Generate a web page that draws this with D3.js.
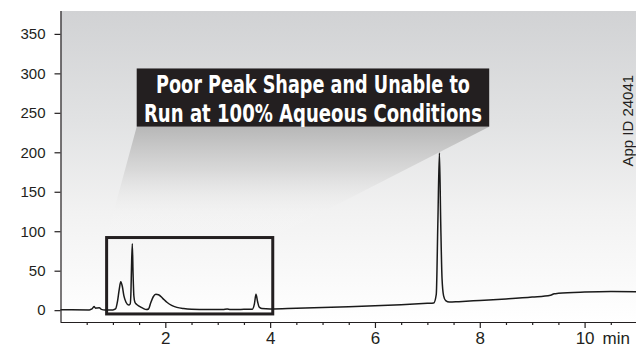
<!DOCTYPE html>
<html>
<head>
<meta charset="utf-8">
<script src="https://cdn.jsdelivr.net/npm/d3@7"></script>
<style>
  html, body { margin: 0; padding: 0; background: #ffffff; }
  svg { display: block; }
  .tick text { font-family: "Liberation Sans", Arial, Helvetica, sans-serif; fill: #231f20; }
</style>
</head>
<body>
<svg id="chart" width="636" height="348"></svg>
<script>
// Chromatogram trace: retention time (min) and detector response (mAU)
const traceTime = [
  0.00, 0.55, 0.60, 0.64, 0.67, 0.70, 0.74, 0.78, 0.85, 1.00,
  1.05, 1.09, 1.12, 1.15, 1.18, 1.21, 1.25, 1.30, 1.33, 1.345,
  1.355, 1.37, 1.385, 1.40, 1.42, 1.45, 1.50, 1.57, 1.64, 1.68,
  1.72, 1.77, 1.82, 1.87, 1.95, 2.03, 2.12, 2.22, 2.35, 2.50,
  2.80, 3.10, 3.18, 3.24, 3.50, 3.66, 3.70, 3.73, 3.76, 3.79,
  3.84, 4.00, 4.50, 5.00, 5.50, 6.00, 6.50, 7.00, 7.12, 7.17,
  7.20, 7.23, 7.255, 7.28, 7.31, 7.35, 7.42, 7.60, 8.00, 8.50,
  9.00, 9.35, 9.42, 9.50, 10.00, 10.50, 11.00
];
const traceValue = [
  0.5, 0.3, 1.5, 4.5, 2.5, 2.8, 3.0, 1.0, 0.3, 0.3,
  1.5, 12, 26, 36, 30, 18, 10, 6.5, 8, 25,
  55, 84, 45, 18, 10, 7.5, 5, 2.5, 0.8, 1.5,
  9, 17, 20, 19.5, 15, 10, 6, 3.5, 2, 1.2,
  0.8, 0.8, 1.5, 0.9, 1.0, 1.3, 8, 20, 11, 4,
  2.2, 1.6, 2.5, 3.4, 4.4, 5.6, 7.0, 8.6, 9.0, 20,
  110, 199, 110, 40, 18, 12, 10.2, 10.8, 12.3, 14.2,
  16.6, 19.0, 20.8, 21.3, 22.9, 23.6, 23.4
];

// Axis ticks
const xMajorTicks = [2, 4, 6, 8, 10];
const xMinorTicks = [0.5, 1, 1.5, 2.5, 3, 3.5, 4.5, 5, 5.5, 6.5, 7, 7.5, 8.5, 9, 9.5, 10.5];
const yTicks = [0, 50, 100, 150, 200, 250, 300, 350];
const xUnitLabel = "min";

// Annotation: highlighted region (time range, response range) and callout text
const zoomTime = [0.88, 4.05];
const zoomValue = [-4.8, 92];
const calloutTime = [1.454, 8.18];
const calloutValue = [232.5, 306.2];
const calloutLines = ["Poor Peak Shape and Unable to", "Run at 100% Aqueous Conditions"];
const calloutWidths = [314, 338];
const sideLabel = "App ID 24041";

const svg = d3.select("#chart");
const W = 636, H = 348;
const plotLeft = 60.5, plotTop = 11, plotBottom = 322;

const x = d3.scaleLinear().domain([0, 11]).range([plotLeft, 637]);
const y = d3.scaleLinear().domain([-15, 379]).range([plotBottom, plotTop]);

const defs = svg.append("defs");

// Plot background: soft grey fading to white toward the baseline
const bg = defs.append("linearGradient").attr("id", "bgGrad")
  .attr("x1", 0).attr("y1", 0).attr("x2", 0).attr("y2", 1);
bg.append("stop").attr("offset", 0).attr("stop-color", "#d1d2d4");
bg.append("stop").attr("offset", 0.35).attr("stop-color", "#e1e2e3");
bg.append("stop").attr("offset", 0.65).attr("stop-color", "#f2f2f2");
bg.append("stop").attr("offset", 1).attr("stop-color", "#ffffff");

svg.append("rect")
  .attr("x", plotLeft).attr("y", plotTop)
  .attr("width", W - plotLeft).attr("height", plotBottom - plotTop)
  .attr("fill", "url(#bgGrad)");

// Callout wedge linking the text box to the highlighted region
const cx0 = x(calloutTime[0]), cx1 = x(calloutTime[1]);
const cyTop = y(calloutValue[1]), cyBot = y(calloutValue[0]);
const zx0 = x(zoomTime[0]), zx1 = x(zoomTime[1]);
const zyTop = y(zoomValue[1]), zyBot = y(zoomValue[0]);

const wg = defs.append("linearGradient").attr("id", "wedgeGrad")
  .attr("gradientUnits", "userSpaceOnUse")
  .attr("x1", 0).attr("y1", cyBot).attr("x2", 0).attr("y2", zyTop);
wg.append("stop").attr("offset", 0).attr("stop-color", "#b7b7b7").attr("stop-opacity", 1);
wg.append("stop").attr("offset", 0.4).attr("stop-color", "#d6d6d6").attr("stop-opacity", 0.85);
wg.append("stop").attr("offset", 0.8).attr("stop-color", "#f4f4f4").attr("stop-opacity", 0.2);
wg.append("stop").attr("offset", 1).attr("stop-color", "#ffffff").attr("stop-opacity", 0);

svg.append("path")
  .attr("d", `M${cx0},${cyBot} L${cx1},${cyBot} L${zx1},${zyTop} L${zx0},${zyTop} Z`)
  .attr("fill", "url(#wedgeGrad)");

// Callout box with text
svg.append("rect")
  .attr("x", cx0).attr("y", cyTop)
  .attr("width", cx1 - cx0).attr("height", cyBot - cyTop)
  .attr("fill", "#231f20");

const boxMid = (cx0 + cx1) / 2;
const boxH = cyBot - cyTop;
svg.selectAll("text.callout")
  .data(calloutLines)
  .join("text")
  .attr("class", "callout")
  .attr("x", boxMid)
  .attr("y", (d, i) => cyTop + boxH * (i === 0 ? 0.425 : 0.915))
  .attr("text-anchor", "middle")
  .attr("textLength", (d, i) => calloutWidths[i])
  .attr("lengthAdjust", "spacingAndGlyphs")
  .attr("font-family", "'Liberation Sans Narrow', 'Arial Narrow', 'DejaVu Sans Condensed', sans-serif")
  .attr("font-weight", "bold")
  .attr("font-size", 25)
  .attr("fill", "#ffffff")
  .text(d => d);

// Highlighted region frame
svg.append("rect")
  .attr("x", zx0).attr("y", zyTop)
  .attr("width", zx1 - zx0).attr("height", zyBot - zyTop)
  .attr("fill", "none")
  .attr("stroke", "#231f20")
  .attr("stroke-width", 3);

// Chromatogram trace
const pts = traceTime.map((t, i) => [t, traceValue[i]]);
const line = d3.line().x(d => x(d[0])).y(d => y(d[1])).curve(d3.curveMonotoneX);
svg.append("path")
  .datum(pts)
  .attr("d", line)
  .attr("fill", "none")
  .attr("stroke", "#1a1a1a")
  .attr("stroke-width", 1.5)
  .attr("stroke-linejoin", "round");

// X axis: major labelled ticks plus unlabelled half-minute ticks
const xAxisG = svg.append("g").attr("transform", `translate(0,${plotBottom})`);
xAxisG.append("g")
  .call(d3.axisBottom(x).tickValues(xMinorTicks).tickSize(3).tickFormat(""))
  .call(g => g.select(".domain").remove());
xAxisG.append("g")
  .call(d3.axisBottom(x).tickValues(xMajorTicks).tickSize(6).tickPadding(4).tickFormat(d3.format("d")))
  .call(g => g.select(".domain").attr("d", `M${plotLeft},0.5H${W}`))
  .call(g => g.selectAll(".tick text").attr("font-size", 17));
xAxisG.selectAll("line, path").attr("stroke", "#231f20").attr("stroke-width", 1.2);

xAxisG.append("text")
  .attr("x", x(10) + 18)
  .attr("y", 10)
  .attr("dy", "0.71em")
  .attr("font-family", "'Liberation Sans', Arial, Helvetica, sans-serif")
  .attr("font-size", 17)
  .attr("fill", "#231f20")
  .text(xUnitLabel);

// Y axis
const yAxisG = svg.append("g").attr("transform", `translate(${plotLeft},0)`);
yAxisG.call(d3.axisLeft(y).tickValues(yTicks).tickSize(6).tickPadding(9).tickFormat(d3.format("d")))
  .call(g => g.select(".domain").attr("d", `M0.5,${plotTop}V${plotBottom}`))
  .call(g => g.selectAll(".tick text").attr("font-size", 15));
yAxisG.selectAll("line, path").attr("stroke", "#231f20").attr("stroke-width", 1.2);

// Rotated identifier along the right edge
svg.append("text")
  .attr("transform", `translate(633,${y(240)}) rotate(-90)`)
  .attr("text-anchor", "middle")
  .attr("font-family", "'Liberation Sans', Arial, Helvetica, sans-serif")
  .attr("font-size", 15)
  .attr("fill", "#231f20")
  .text(sideLabel);
</script>
</body>
</html>
